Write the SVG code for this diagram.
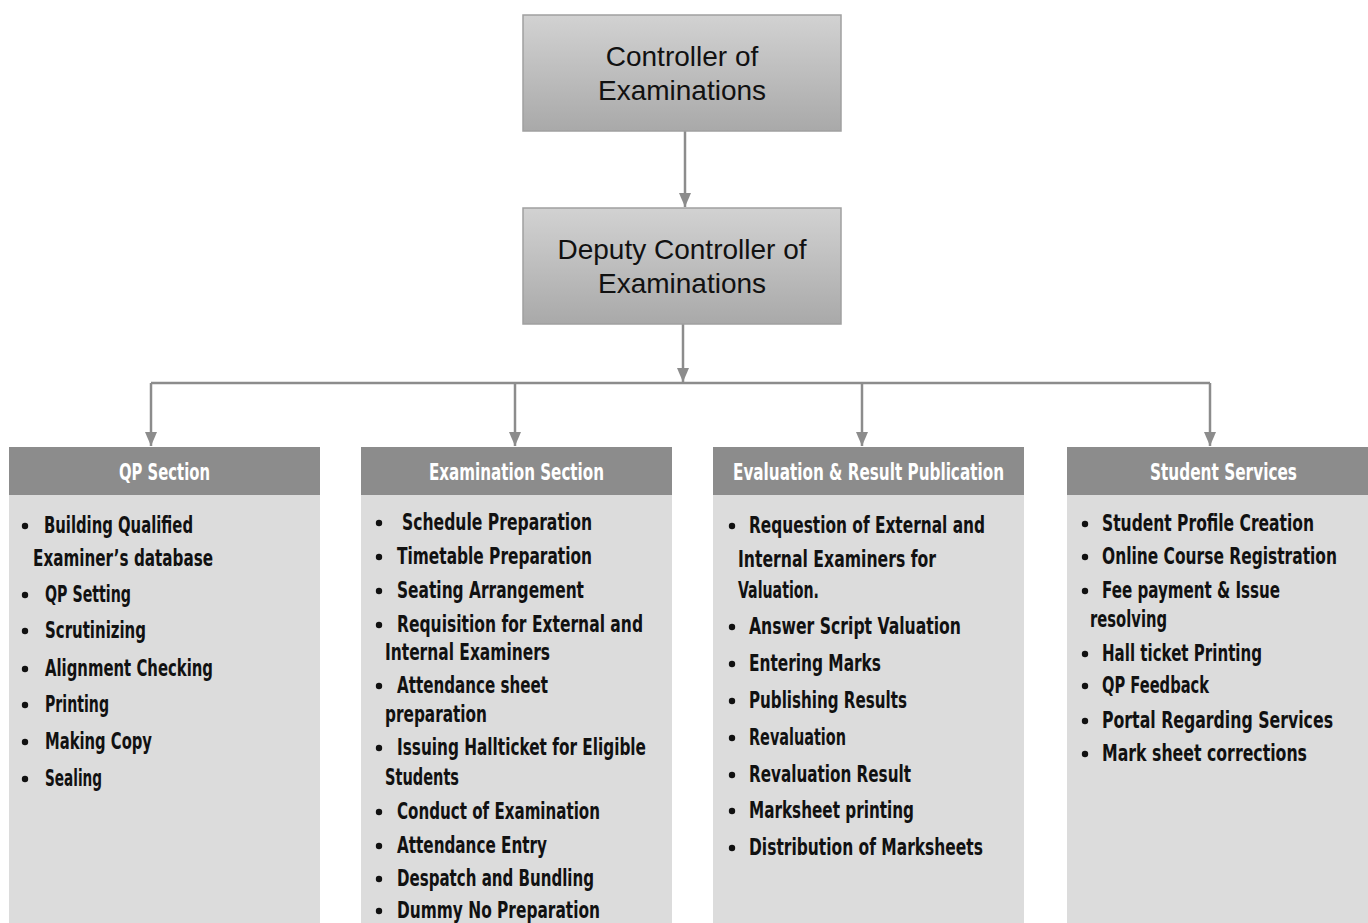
<svg xmlns="http://www.w3.org/2000/svg" width="1368" height="923" viewBox="0 0 1368 923">
<defs>
<linearGradient id="g" x1="0" y1="0" x2="0" y2="1"><stop offset="0" stop-color="#d2d2d2"/><stop offset="1" stop-color="#a9a9a9"/></linearGradient>
<marker id="ah" markerWidth="14" markerHeight="12" refX="14" refY="6" orient="auto" markerUnits="userSpaceOnUse"><path d="M0,0 L14,6 L0,12 Z" fill="#8c8c8c"/></marker>
<style>
.top{fill:url(#g);stroke:#a0a0a0;stroke-width:1.5}
.tt{font-family:"Liberation Sans",Arial,sans-serif;font-size:28px;fill:#111;text-anchor:middle}
.hd{fill:#8c8c8c}
.bd{fill:#dcdcdc}
.ht{font-family:"Liberation Sans Narrow","DejaVu Sans Condensed","Liberation Sans",sans-serif;font-weight:bold;font-size:23px;fill:#fff}
.it{font-family:"Liberation Sans Narrow","DejaVu Sans Condensed","Liberation Sans",sans-serif;font-weight:bold;font-size:23px;fill:#111}
.r{text-anchor:end}
.bu{fill:#111}
.cn{stroke:#8c8c8c;stroke-width:2.5;fill:none}
</style>
</defs>
<rect width="1368" height="923" fill="#fff"/>
<g id="connectors">
<path class="cn" d="M685,131 V207" marker-end="url(#ah)"/>
<path class="cn" d="M683,324 V382" marker-end="url(#ah)"/>
<path class="cn" d="M151,383 H1210"/>
<path class="cn" d="M151,383 V446" marker-end="url(#ah)"/>
<path class="cn" d="M515,383 V446" marker-end="url(#ah)"/>
<path class="cn" d="M862,383 V446" marker-end="url(#ah)"/>
<path class="cn" d="M1210,383 V446" marker-end="url(#ah)"/>
</g>
<g id="controller">
<rect class="top" x="523" y="15" width="318" height="116"/>
<text class="tt" x="682" y="66">Controller of</text>
<text class="tt" x="682" y="100">Examinations</text>
</g>
<g id="deputy">
<rect class="top" x="523" y="208" width="318" height="116"/>
<text class="tt" x="682" y="259">Deputy Controller of</text>
<text class="tt" x="682" y="293">Examinations</text>
</g>
<g id="qp">
<rect class="bd" x="9" y="495" width="311" height="428"/>
<rect class="hd" x="9" y="447" width="311" height="48"/>
<text class="ht" x="119" y="480" textLength="91" lengthAdjust="spacingAndGlyphs">QP Section</text>
<g class="bu"><circle cx="25" cy="526" r="3.2"/><circle cx="25" cy="595" r="3.2"/><circle cx="25" cy="631" r="3.2"/><circle cx="25" cy="669" r="3.2"/><circle cx="25" cy="705" r="3.2"/><circle cx="25" cy="742" r="3.2"/><circle cx="25" cy="779" r="3.2"/></g>
<text class="it" x="44" y="533" textLength="149" lengthAdjust="spacingAndGlyphs">Building Qualified</text>
<text class="it" x="33" y="566" textLength="180" lengthAdjust="spacingAndGlyphs">Examiner’s database</text>
<text class="it" x="45" y="602" textLength="86" lengthAdjust="spacingAndGlyphs">QP Setting</text>
<text class="it" x="45" y="638" textLength="101" lengthAdjust="spacingAndGlyphs">Scrutinizing</text>
<text class="it" x="45" y="676" textLength="168" lengthAdjust="spacingAndGlyphs">Alignment Checking</text>
<text class="it" x="45" y="712" textLength="64" lengthAdjust="spacingAndGlyphs">Printing</text>
<text class="it" x="45" y="749" textLength="107" lengthAdjust="spacingAndGlyphs">Making Copy</text>
<text class="it" x="45" y="786" textLength="57" lengthAdjust="spacingAndGlyphs">Sealing</text>
</g>
<g id="exam">
<rect class="bd" x="361" y="495" width="311" height="428"/>
<rect class="hd" x="361" y="447" width="311" height="48"/>
<text class="ht" x="429" y="480" textLength="175" lengthAdjust="spacingAndGlyphs">Examination Section</text>
<g class="bu"><circle cx="379" cy="523" r="3.2"/><circle cx="379" cy="557" r="3.2"/><circle cx="379" cy="591" r="3.2"/><circle cx="379" cy="625" r="3.2"/><circle cx="379" cy="686" r="3.2"/><circle cx="379" cy="748" r="3.2"/><circle cx="379" cy="812" r="3.2"/><circle cx="379" cy="846" r="3.2"/><circle cx="379" cy="879" r="3.2"/><circle cx="379" cy="911" r="3.2"/></g>
<text class="it" x="402" y="530" textLength="190" lengthAdjust="spacingAndGlyphs">Schedule Preparation</text>
<text class="it" x="397" y="564" textLength="195" lengthAdjust="spacingAndGlyphs">Timetable Preparation</text>
<text class="it" x="397" y="598" textLength="187" lengthAdjust="spacingAndGlyphs">Seating Arrangement</text>
<text class="it" x="397" y="632" textLength="246" lengthAdjust="spacingAndGlyphs">Requisition for External and</text>
<text class="it" x="385" y="660" textLength="165" lengthAdjust="spacingAndGlyphs">Internal Examiners</text>
<text class="it" x="397" y="693" textLength="151" lengthAdjust="spacingAndGlyphs">Attendance sheet</text>
<text class="it" x="385" y="722" textLength="102" lengthAdjust="spacingAndGlyphs">preparation</text>
<text class="it" x="397" y="755" textLength="249" lengthAdjust="spacingAndGlyphs">Issuing Hallticket for Eligible</text>
<text class="it" x="385" y="785" textLength="74" lengthAdjust="spacingAndGlyphs">Students</text>
<text class="it" x="397" y="819" textLength="203" lengthAdjust="spacingAndGlyphs">Conduct of Examination</text>
<text class="it" x="397" y="853" textLength="150" lengthAdjust="spacingAndGlyphs">Attendance Entry</text>
<text class="it" x="397" y="886" textLength="197" lengthAdjust="spacingAndGlyphs">Despatch and Bundling</text>
<text class="it" x="397" y="918" textLength="203" lengthAdjust="spacingAndGlyphs">Dummy No Preparation</text>
</g>
<g id="eval">
<rect class="bd" x="713" y="495" width="311" height="428"/>
<rect class="hd" x="713" y="447" width="311" height="48"/>
<text class="ht" x="733" y="480" textLength="271" lengthAdjust="spacingAndGlyphs">Evaluation &amp; Result Publication</text>
<g class="bu"><circle cx="732" cy="526" r="3.2"/><circle cx="732" cy="627" r="3.2"/><circle cx="732" cy="664" r="3.2"/><circle cx="732" cy="701" r="3.2"/><circle cx="732" cy="738" r="3.2"/><circle cx="732" cy="775" r="3.2"/><circle cx="732" cy="811" r="3.2"/><circle cx="732" cy="848" r="3.2"/></g>
<text class="it" x="749" y="533" textLength="236" lengthAdjust="spacingAndGlyphs">Requestion of External and</text>
<text class="it" x="738" y="567" textLength="198" lengthAdjust="spacingAndGlyphs">Internal Examiners for</text>
<text class="it" x="738" y="598" textLength="81" lengthAdjust="spacingAndGlyphs">Valuation.</text>
<text class="it" x="749" y="634" textLength="212" lengthAdjust="spacingAndGlyphs">Answer Script Valuation</text>
<text class="it" x="749" y="671" textLength="132" lengthAdjust="spacingAndGlyphs">Entering Marks</text>
<text class="it" x="749" y="708" textLength="158" lengthAdjust="spacingAndGlyphs">Publishing Results</text>
<text class="it" x="749" y="745" textLength="97" lengthAdjust="spacingAndGlyphs">Revaluation</text>
<text class="it" x="749" y="782" textLength="162" lengthAdjust="spacingAndGlyphs">Revaluation Result</text>
<text class="it" x="749" y="818" textLength="165" lengthAdjust="spacingAndGlyphs">Marksheet printing</text>
<text class="it" x="749" y="855" textLength="234" lengthAdjust="spacingAndGlyphs">Distribution of Marksheets</text>
</g>
<g id="student">
<rect class="bd" x="1067" y="495" width="301" height="428"/>
<rect class="hd" x="1067" y="447" width="301" height="48"/>
<text class="ht r" x="1297" y="480" textLength="147" lengthAdjust="spacingAndGlyphs">Student Services</text>
<g class="bu"><circle cx="1085" cy="524" r="3.2"/><circle cx="1085" cy="557" r="3.2"/><circle cx="1085" cy="591" r="3.2"/><circle cx="1085" cy="654" r="3.2"/><circle cx="1085" cy="686" r="3.2"/><circle cx="1085" cy="721" r="3.2"/><circle cx="1085" cy="754" r="3.2"/></g>
<text class="it r" x="1314" y="531" textLength="212" lengthAdjust="spacingAndGlyphs">Student Profile Creation</text>
<text class="it r" x="1337" y="564" textLength="235" lengthAdjust="spacingAndGlyphs">Online Course Registration</text>
<text class="it r" x="1280" y="598" textLength="178" lengthAdjust="spacingAndGlyphs">Fee payment &amp; Issue</text>
<text class="it r" x="1167" y="627" textLength="77" lengthAdjust="spacingAndGlyphs">resolving</text>
<text class="it r" x="1262" y="661" textLength="160" lengthAdjust="spacingAndGlyphs">Hall ticket Printing</text>
<text class="it r" x="1209" y="693" textLength="107" lengthAdjust="spacingAndGlyphs">QP Feedback</text>
<text class="it r" x="1333" y="728" textLength="231" lengthAdjust="spacingAndGlyphs">Portal Regarding Services</text>
<text class="it r" x="1307" y="761" textLength="205" lengthAdjust="spacingAndGlyphs">Mark sheet corrections</text>
</g>
</svg>
